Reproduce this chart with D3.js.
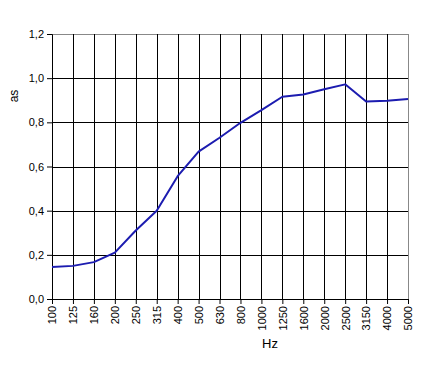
<!DOCTYPE html>
<html>
<head>
<meta charset="utf-8">
<script src="https://cdn.jsdelivr.net/npm/d3@7"></script>
<style>
  body { margin: 0; background: #fff; }
  svg text { font-family: "Liberation Sans", Arial, sans-serif; font-size: 11px; fill: #000; }
</style>
</head>
<body>
<svg id="chart" width="446" height="384"></svg>
<script>
var freqs = ["100", "125", "160", "200", "250", "315", "400", "500", "630", "800",
             "1000", "1250", "1600", "2000", "2500", "3150", "4000", "5000"];
var alphaS = [0.145, 0.15, 0.167, 0.21, 0.31, 0.40, 0.556, 0.667, 0.73, 0.798,
              0.855, 0.916, 0.926, 0.95, 0.972, 0.894, 0.898, 0.906];
var yTicks = [0, 0.2, 0.4, 0.6, 0.8, 1.0, 1.2];

var margin = {top: 34, right: 38, bottom: 85, left: 52},
    width = 446 - margin.left - margin.right,
    height = 384 - margin.top - margin.bottom;

var svg = d3.select("#chart")
    .append("g")
    .attr("transform", "translate(" + margin.left + "," + margin.top + ")");

var x = d3.scalePoint().domain(freqs).range([0, width]).padding(0);
var y = d3.scaleLinear().domain([0, 1.2]).range([height, 0]);

var fmt = function(d) { return d3.format(".1f")(d).replace(".", ","); };

// horizontal grid
svg.append("g").selectAll("line")
    .data(yTicks.slice(1))
    .enter().append("line")
    .attr("x1", 0).attr("x2", width)
    .attr("y1", function(d) { return Math.round(y(d)) + 0.5; })
    .attr("y2", function(d) { return Math.round(y(d)) + 0.5; })
    .attr("stroke", function(d) { return d === 1.2 ? "#888" : "#000"; });

// vertical grid
svg.append("g").selectAll("line")
    .data(freqs.slice(1))
    .enter().append("line")
    .attr("y1", 0).attr("y2", height)
    .attr("x1", function(d) { return Math.round(x(d)) + 0.5; })
    .attr("x2", function(d) { return Math.round(x(d)) + 0.5; })
    .attr("stroke", function(d, i) { return i === freqs.length - 2 ? "#888" : "#000"; });

// y axis
var yAxis = svg.append("g")
    .call(d3.axisLeft(y).tickValues(yTicks).tickFormat(fmt).tickSize(5).tickPadding(3));
yAxis.select(".domain").attr("stroke", "#000");
yAxis.selectAll("text").style("font-size", "11px");

// x axis
var xAxis = svg.append("g")
    .attr("transform", "translate(0," + height + ")")
    .call(d3.axisBottom(x).tickSize(5).tickSizeOuter(0));
xAxis.select(".domain").attr("stroke", "#000");
xAxis.selectAll("text")
    .attr("transform", "rotate(-90)")
    .attr("x", -7)
    .attr("y", 0)
    .attr("dy", "0.35em")
    .attr("text-anchor", "end");

// line
var line = d3.line()
    .x(function(d, i) { return x(freqs[i]); })
    .y(function(d) { return y(d); });

svg.append("path")
    .datum(alphaS)
    .attr("fill", "none")
    .attr("stroke", "#1c1cb0")
    .attr("stroke-width", 2)
    .attr("stroke-linejoin", "round")
    .attr("d", line);

// axis titles
d3.select("#chart").append("text")
    .attr("transform", "translate(18,96) rotate(-90)")
    .attr("text-anchor", "middle")
    .style("font-size", "12px")
    .text("as");

d3.select("#chart").append("text")
    .attr("x", 270)
    .attr("y", 348)
    .attr("text-anchor", "middle")
    .style("font-size", "13px")
    .text("Hz");
</script>
</body>
</html>
